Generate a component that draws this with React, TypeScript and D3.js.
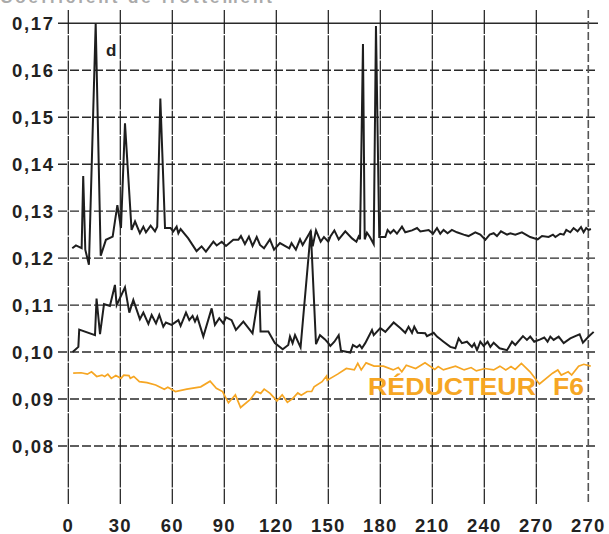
import React from "react";
import * as d3 from "d3";

const W = 609;
const H = 534;

const yTicks = [0.08, 0.09, 0.1, 0.11, 0.12, 0.13, 0.14, 0.15, 0.16, 0.17];
const yTickLabels = ["0,08", "0,09", "0,10", "0,11", "0,12", "0,13", "0,14", "0,15", "0,16", "0,17"];
const xTicks = [0, 30, 60, 90, 120, 150, 180, 210, 240, 270, 300];
const xTickLabels = ["0", "30", "60", "90", "120", "150", "180", "210", "240", "270", "270"];

const upperSeries: [number, number][] = [
  [2.3, 0.1221], [4.4, 0.1227], [7.7, 0.1221], [8.6, 0.1375], [9.8, 0.1218], [11.9, 0.1186],
  [15.8, 0.17], [18.7, 0.1205], [21.7, 0.1239], [25.6, 0.1246], [28.3, 0.1313], [30.4, 0.1264],
  [32.7, 0.1487], [36.5, 0.126], [38.5, 0.1278], [41.3, 0.1253], [43.3, 0.1267], [44.8, 0.1255],
  [47.5, 0.1269], [50, 0.1257], [51.3, 0.1267], [53.1, 0.154], [55.8, 0.1264], [59, 0.1264],
  [60.6, 0.1257], [62.5, 0.1267], [63.5, 0.1253], [64.8, 0.1262], [69.2, 0.1242], [74, 0.1215],
  [76.9, 0.1225], [79.4, 0.1214], [83.7, 0.1235], [85.6, 0.1227], [88.5, 0.1235], [91, 0.1226],
  [95.2, 0.1239], [98.1, 0.1239], [99.6, 0.1247], [101.9, 0.123], [104.2, 0.1246], [106.3, 0.1226],
  [108.7, 0.1245], [110.6, 0.1228], [112.9, 0.1221], [116.3, 0.124], [118.7, 0.1218], [122.1, 0.1232],
  [127.5, 0.1221], [128.8, 0.1232], [131.3, 0.1218], [133.7, 0.124], [135.2, 0.1228], [139.8, 0.1257],
  [141, 0.1225], [142.9, 0.1259], [145.6, 0.1235], [147.5, 0.1245], [150, 0.1235], [151.2, 0.1246],
  [153.5, 0.1259], [156, 0.124], [159.8, 0.1257], [163.7, 0.1242], [166.2, 0.1235], [167.5, 0.1246],
  [168.3, 0.124], [170, 0.1656], [171, 0.124], [172.3, 0.1254], [174, 0.1245], [176.2, 0.123],
  [177.5, 0.1694], [179.4, 0.1245], [180.5, 0.1245], [182.9, 0.1245], [184.2, 0.126], [185.8, 0.1253],
  [187.7, 0.126], [189.6, 0.1252], [192.5, 0.1267], [194.4, 0.1255], [198.3, 0.1259], [201.2, 0.1264],
  [203.1, 0.1257], [207.9, 0.126], [210.4, 0.1252], [212.7, 0.1264], [214.6, 0.1252], [216.5, 0.126],
  [218.8, 0.1253], [221.3, 0.126], [224.2, 0.1255], [228.1, 0.125], [230.9, 0.1247], [234.8, 0.1255],
  [237.7, 0.125], [240.6, 0.1239], [243.1, 0.125], [245.4, 0.1253], [247.3, 0.1247], [249.6, 0.1257],
  [253.1, 0.125], [255, 0.1253], [257.9, 0.125], [261.7, 0.1255], [266.5, 0.1245], [270.8, 0.124],
  [273.3, 0.1247], [277.1, 0.1245], [279.6, 0.125], [281, 0.1245], [283.8, 0.1252], [285.8, 0.125],
  [287.3, 0.126], [289.6, 0.1255], [291.5, 0.1264], [293.8, 0.1257], [295.8, 0.1266], [297.3, 0.1255],
  [298.8, 0.1264], [300.2, 0.126], [301.5, 0.1262],
];

const lowerSeries: [number, number][] = [
  [2.5, 0.1], [5.8, 0.1011], [6.3, 0.1048], [15.4, 0.1036], [16.3, 0.1114], [18.3, 0.1038],
  [20.6, 0.1102], [24, 0.1098], [26.9, 0.1143], [27.9, 0.11], [32.7, 0.1138], [35.2, 0.1084],
  [37.5, 0.1111], [41.3, 0.107], [43.3, 0.1084], [46.2, 0.106], [48.1, 0.1079], [50.6, 0.1061],
  [52.5, 0.1079], [54.8, 0.1054], [56.3, 0.1063], [59.6, 0.1058], [63.5, 0.1068], [64.8, 0.1056],
  [67.9, 0.1084], [69.8, 0.1068], [71.7, 0.1077], [73.1, 0.1065], [74.4, 0.1075], [77.9, 0.1033],
  [82.7, 0.1093], [84.6, 0.1058], [87.1, 0.1072], [89.4, 0.1061], [91, 0.1074], [94.2, 0.1068],
  [96.7, 0.1047], [101, 0.1065], [106.3, 0.104], [110.2, 0.1131], [110.9, 0.1044], [115.4, 0.1044],
  [119.2, 0.1019], [123.7, 0.1006], [126.9, 0.1015], [127.9, 0.1033], [129.4, 0.1019], [130.8, 0.1036],
  [134, 0.101], [139.9, 0.1258], [142.9, 0.1017], [145.2, 0.1036], [148.1, 0.1027], [150, 0.1019],
  [151.2, 0.1013], [153.5, 0.1022], [156, 0.1036], [157.3, 0.1003], [162.7, 0.0999], [164.2, 0.1015],
  [166.5, 0.101], [168.1, 0.1015], [169.4, 0.1008], [171.3, 0.1019], [175.2, 0.1047], [176.2, 0.1036],
  [180, 0.1051], [182.9, 0.1043], [187.7, 0.1063], [191.5, 0.1051], [194.4, 0.1041], [196.3, 0.1054],
  [198.3, 0.1041], [199.6, 0.1054], [201.5, 0.1041], [205.9, 0.104], [206.9, 0.1034], [210.8, 0.1041],
  [212.7, 0.1033], [216.5, 0.1022], [220.4, 0.1011], [223.3, 0.1008], [225.2, 0.1029], [227.1, 0.1019],
  [230, 0.1022], [232.9, 0.1011], [234.2, 0.1018], [235.8, 0.1004], [237.7, 0.1022], [239.6, 0.1013],
  [241.9, 0.1022], [243.5, 0.1011], [245.4, 0.102], [248.8, 0.1008], [253.1, 0.1004], [256, 0.1022],
  [257.9, 0.1015], [262.3, 0.1034], [264.6, 0.1026], [266.5, 0.1033], [268.8, 0.1022], [272.3, 0.1027],
  [274.6, 0.1031], [276.5, 0.1022], [278.1, 0.1033], [280, 0.1026], [282.9, 0.1033], [285.8, 0.1019],
  [289.6, 0.1029], [292.5, 0.1034], [295, 0.1038], [296.9, 0.102], [300.2, 0.1033], [303.1, 0.1043],
];

const orangeSeries: [number, number][] = [
  [2.8, 0.0955], [7.4, 0.0956], [11, 0.0953], [13.4, 0.0958], [16.4, 0.0948], [19.4, 0.0951],
  [21, 0.0948], [22.8, 0.0953], [24.8, 0.0944], [27.4, 0.095], [30.4, 0.0944], [32, 0.0951],
  [35, 0.095], [35.8, 0.0944], [37.8, 0.0948], [41, 0.0937], [45.4, 0.0935], [50.4, 0.093],
  [55.4, 0.0921], [57.4, 0.0925], [61.8, 0.0916], [68.4, 0.0921], [76.4, 0.0926], [81.8, 0.0938],
  [85.4, 0.0923], [89, 0.0916], [92.4, 0.0892], [96.4, 0.0909], [99.4, 0.0882], [105, 0.0899],
  [108.4, 0.0916], [111, 0.0912], [113, 0.0921], [116.4, 0.0912], [120.4, 0.0896], [123.4, 0.0909],
  [126.4, 0.0893], [129.4, 0.0901], [132.4, 0.0913], [134.4, 0.0908], [137.8, 0.0916], [140.4, 0.0916],
  [141.8, 0.0926], [146.4, 0.0937], [149, 0.0949], [149.4, 0.094], [155.4, 0.0953], [160.4, 0.0965],
  [165, 0.0962], [167, 0.0976], [169, 0.0962], [171.8, 0.0977], [176.4, 0.097], [181.8, 0.097],
  [187.4, 0.0962], [190.4, 0.0967], [192.4, 0.0958], [195, 0.0972], [200.4, 0.0965], [205.8, 0.0977],
  [211.4, 0.0963], [213.4, 0.0969], [216.4, 0.0962], [223.4, 0.097], [228.4, 0.0962], [232.4, 0.0967],
  [235.4, 0.096], [240.4, 0.0965], [245.4, 0.0962], [249, 0.097], [252.4, 0.0962], [255.4, 0.0969],
  [257.8, 0.0963], [261.4, 0.0976], [266.4, 0.0958], [271.8, 0.0932], [279.4, 0.0955], [282.4, 0.0962],
  [284.4, 0.0951], [288.4, 0.0958], [290.4, 0.0951], [294.4, 0.097], [297.4, 0.0974], [301.4, 0.097],
];

const ORANGE = "#F6A623";
const FONT = "Liberation Sans, Arial, Helvetica, sans-serif";

export default function App() {
  const x = d3.scaleLinear().domain([0, 300]).range([68.3, 588.3]);
  const y = d3.scaleLinear().domain([0.08, 0.17]).range([446, 23.3]);
  const top = 10;
  const bottom = 504;
  const left = 58;
  const right = 598;

  const line = d3
    .line<[number, number]>()
    .x((d) => x(d[0]))
    .y((d) => y(d[1]));

  return (
    <svg width={W} height={H} style={{ position: "absolute", left: 0, top: 0, background: "#fff" }}>
      <rect x={0} y={0} width={W} height={H} fill="#fff" />
      {/* clipped title at top (cut off in the original too) */}
      <text x={0} y={2.5} fontFamily={FONT} fontWeight="bold" fontSize={17} fill="#aaa" textLength={272} lengthAdjust="spacing">
        Coefficient de frottement
      </text>
      {/* horizontal grid */}
      {yTicks.map((t, i) => (
        <line
          key={"h" + i}
          x1={left}
          x2={right}
          y1={y(t)}
          y2={y(t)}
          stroke="#2a2a2a"
          strokeWidth={1.4}
          strokeDasharray={t === 0.17 ? undefined : "9,3"}
        />
      ))}
      {/* vertical grid */}
      {xTicks.map((t, i) => (
        <line
          key={"v" + i}
          x1={x(t)}
          x2={x(t)}
          y1={top}
          y2={bottom}
          stroke={t === 300 ? "#555" : "#1a1a1a"}
          strokeWidth={t === 300 ? 1.6 : 1.2}
          strokeDasharray={t === 300 ? "8,3" : "24,1.2"}
        />
      ))}
      {/* y labels */}
      {yTicks.map((t, i) => (
        <text
          key={"yl" + i}
          x={12}
          y={y(t) + 6.6}
          fontFamily={FONT}
          fontWeight="bold"
          fontSize={18.5}
          fill="#222"
          textLength={41}
          lengthAdjust="spacing"
        >
          {yTickLabels[i]}
        </text>
      ))}
      {/* x labels */}
      {xTicks.map((t, i) => (
        <text
          key={"xl" + i}
          x={x(t)}
          y={531.5}
          textAnchor="middle"
          fontFamily={FONT}
          fontWeight="bold"
          fontSize={18.5}
          letterSpacing={1.2}
          fill="#222"
        >
          {xTickLabels[i]}
        </text>
      ))}
      {/* series */}
      <path d={line(orangeSeries) || ""} fill="none" stroke={ORANGE} strokeWidth={1.7} strokeLinejoin="miter" />
      <path d={line(lowerSeries) || ""} fill="none" stroke="#1e1e1e" strokeWidth={2} strokeLinejoin="miter" />
      <path d={line(upperSeries) || ""} fill="none" stroke="#1e1e1e" strokeWidth={2} strokeLinejoin="miter" />
      {/* annotations */}
      <text x={106} y={56} fontFamily={FONT} fontWeight="bold" fontSize={17} fill="#222">
        d
      </text>
      <text x={368} y={395} fontFamily={FONT} fontWeight="bold" fontSize={24} fill={ORANGE} textLength={168} lengthAdjust="spacingAndGlyphs">
        RÉDUCTEUR
      </text>
      <text x={553} y={395} fontFamily={FONT} fontWeight="bold" fontSize={24} fill={ORANGE} textLength={31} lengthAdjust="spacingAndGlyphs">
        F6
      </text>
    </svg>
  );
}
